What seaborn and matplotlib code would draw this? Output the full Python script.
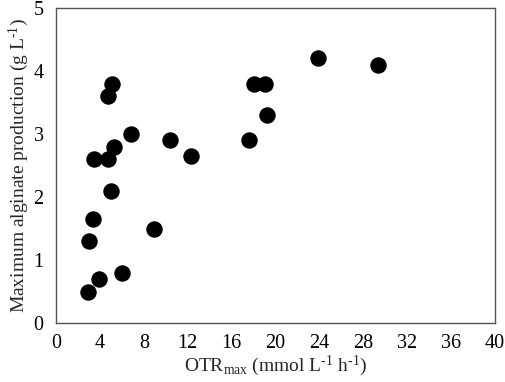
import matplotlib
matplotlib.use("Agg")
import matplotlib.pyplot as plt
import seaborn as sns
import pandas as pd

otr_max = [2.9, 3.0, 3.4, 3.5, 3.9, 4.7, 4.7, 5.0, 5.1, 5.3, 6.0, 6.8, 8.9,
           10.4, 12.3, 17.6, 18.0, 19.0, 19.2, 23.9, 29.3]
alginate = [0.5, 1.3, 1.65, 2.6, 0.7, 3.6, 2.6, 2.1, 3.8, 2.8, 0.8, 3.0, 1.5,
            2.9, 2.65, 2.9, 3.8, 3.8, 3.3, 4.2, 4.1]
x_ticks = [0, 4, 8, 12, 16, 20, 24, 28, 32, 36, 40]
y_ticks = [0, 1, 2, 3, 4, 5]

sns.set_style("white")
plt.rcParams['font.family'] = ['Liberation Serif', 'DejaVu Serif']
plt.rcParams['mathtext.fontset'] = 'custom'
plt.rcParams['mathtext.rm'] = 'Liberation Serif'
plt.rcParams['mathtext.it'] = 'Liberation Serif:italic'

df = pd.DataFrame({"otr": otr_max, "alg": alginate})

fig = plt.figure(figsize=(5.05, 3.82), dpi=100)
ax = fig.add_axes([0.111, 0.154, 0.869, 0.825])
sns.scatterplot(data=df, x="otr", y="alg", ax=ax, s=140, color="black",
                edgecolor="black", linewidth=0, zorder=3)

ax.set_xlim(0, 40)
ax.set_ylim(0, 5)
ax.set_xticks(x_ticks)
ax.set_yticks(y_ticks)
ax.tick_params(direction="in", length=3, width=0.8, color="#555555",
               labelsize=14.5, labelcolor="black")
ax.tick_params(axis="x", pad=8)
ax.tick_params(axis="y", pad=9)
for sp in ax.spines.values():
    sp.set_color("#555555")
    sp.set_linewidth(1.0)
ax.set_xlabel(r"OTR$_{\rm max}$ (mmol L$^{\text{-1}}$ h$^{\text{-1}}$)", fontsize=14, labelpad=0)
ax.set_ylabel(r"Maximum alginate production (g L$^{\text{-1}}$)", fontsize=14, labelpad=2)

fig.savefig("out.png", dpi=100)
